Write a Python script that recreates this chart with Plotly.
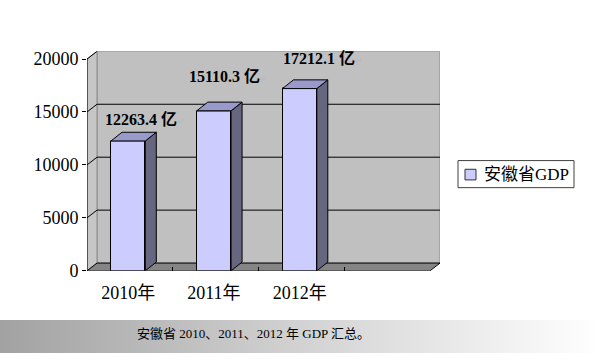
import plotly.graph_objects as go

# ---- data ----
categories = ["2010年", "2011年", "2012年"]
gdp = [12263.4, 15110.3, 17212.1]
value_labels = ["12263.4 亿", "15110.3 亿", "17212.1 亿"]
y_ticks = [0, 5000, 10000, 15000, 20000]
y_ticktext = ["0", "5000", "10000", "15000", "20000"]
series_name = "安徽省GDP"
caption = "安徽省 2010、2011、2012 年 GDP 汇总。"

# ---- geometry / style ----
W, H = 600, 363
PX0, PX1, PY0, PY1 = 87, 440, 51, 278
NSLOT = 4
YMAX = y_ticks[-1]
WALL_DXP, WALL_DYP = 10, 8
BAR_DXP, BAR_DYP = 11, 9
ux = (PX1 - PX0 - WALL_DXP) / NSLOT
uy = (PY1 - PY0 - WALL_DYP) / YMAX
WDX, WDY = WALL_DXP / ux, WALL_DYP / uy
BDX, BDY = BAR_DXP / ux, BAR_DYP / uy
BAR_W = 0.40
CENTER_OFF = 0.48
label_shift = [(-8, 21), (-10, 34), (-2, 30)]

FONT = "Liberation Serif, Times New Roman, Noto Sans CJK SC, serif"
FRONT, TOP, SIDE = "#ccccff", "#9999cc", "#666680"

xc = [i + CENTER_OFF for i in range(len(categories))]

fig = go.Figure()

def path(pts):
    return "M " + " L ".join(f"{x},{y}" for x, y in pts) + " Z"

shapes = []
shapes.append(dict(type="path", xref="x", yref="y", layer="below",
                   path=path([(WDX, WDY), (NSLOT + WDX, WDY), (NSLOT + WDX, YMAX + WDY), (WDX, YMAX + WDY)]),
                   fillcolor="#c0c0c0", line=dict(color="#8a8a8a", width=1)))
shapes.append(dict(type="path", xref="x", yref="y", layer="below",
                   path=path([(0, 0), (WDX, WDY), (WDX, YMAX + WDY), (0, YMAX)]),
                   fillcolor="#c6c6c6", line=dict(color="#8a8a8a", width=1)))
shapes.append(dict(type="path", xref="x", yref="y", layer="below",
                   path=path([(0, 0), (NSLOT, 0), (NSLOT + WDX, WDY), (WDX, WDY)]),
                   fillcolor="#858585", line=dict(color="#000000", width=1)))
for v in y_ticks[1:-1]:
    shapes.append(dict(type="line", xref="x", yref="y", layer="below",
                       x0=WDX, x1=NSLOT + WDX, y0=v + WDY, y1=v + WDY,
                       line=dict(color="#000000", width=1)))
for v in y_ticks[1:]:
    shapes.append(dict(type="line", xref="x", yref="y", layer="below",
                       x0=0, x1=WDX, y0=v, y1=v + WDY,
                       line=dict(color="#000000", width=1)))
shapes.append(dict(type="line", xref="x", yref="y", layer="below",
                   x0=0, x1=0, y0=0, y1=YMAX, line=dict(color="#000000", width=1)))

# legend box drawn to match the reference geometry
shapes.append(dict(type="rect", xref="paper", yref="paper",
                   x0=458 / W, x1=574 / W, y0=1 - 192 / H, y1=1 - 164 / H,
                   fillcolor="#ffffff", line=dict(color="#404040", width=1)))
shapes.append(dict(type="rect", xref="paper", yref="paper",
                   x0=465 / W, x1=476 / W, y0=1 - 184 / H, y1=1 - 173 / H,
                   fillcolor=FRONT, line=dict(color="#303030", width=1)))

for c, v in zip(xc, gdp):
    L, R = c - BAR_W / 2, c + BAR_W / 2
    fig.add_trace(go.Scatter(x=[R, R, R + BDX, R + BDX, R], y=[0, v, v + BDY, BDY, 0],
                             fill="toself", fillcolor=SIDE, mode="lines",
                             line=dict(color="#000000", width=1), showlegend=False, hoverinfo="skip"))
    fig.add_trace(go.Scatter(x=[L, L + BDX, R + BDX, R, L], y=[v, v + BDY, v + BDY, v, v],
                             fill="toself", fillcolor=TOP, mode="lines",
                             line=dict(color="#000000", width=1), showlegend=False, hoverinfo="skip"))

fig.add_trace(go.Bar(x=xc, y=gdp, width=BAR_W, name=series_name, showlegend=False,
                     marker=dict(color=FRONT, line=dict(color="#000000", width=1))))

fig.add_trace(go.Scatter(x=[0, 1, 1, 0, 0], y=[0, 0, 1, 1, 0], xaxis="x2", yaxis="y2",
                         fill="toself", mode="none", showlegend=False, hoverinfo="skip",
                         fillgradient=dict(type="horizontal",
                                           colorscale=[[0, "#a2a2a2"], [0.5, "#d2d2d2"], [1, "#ffffff"]])))

annotations = []
for c, v, t, (sx, sy) in zip(xc, gdp, value_labels, label_shift):
    annotations.append(dict(x=c - BAR_W / 2, y=v, xref="x", yref="y", xanchor="left", yanchor="middle",
                            xshift=sx, yshift=sy, showarrow=False,
                            text=f"<b>{t}</b><span style='color:#b8b8b8;font-size:9px'>↵</span>",
                            font=dict(family=FONT, size=16, color="#000000")))
annotations.append(dict(x=482 / W, y=1 - 178 / H, xref="paper", yref="paper",
                        xanchor="left", yanchor="middle", showarrow=False, text=series_name,
                        font=dict(family=FONT, size=17, color="#000000")))
annotations.append(dict(x=253 / W, y=(H - 343) / H, xref="paper", yref="paper",
                        xanchor="center", yanchor="middle", showarrow=False, text=caption,
                        font=dict(family=FONT, size=13, color="#000000")))

fig.update_layout(
    width=W, height=H, margin=dict(l=0, r=0, t=0, b=0), autosize=False,
    paper_bgcolor="#ffffff", plot_bgcolor="rgba(0,0,0,0)",
    font=dict(family=FONT, color="#000000"),
    shapes=shapes, annotations=annotations, showlegend=False,
    xaxis=dict(domain=[PX0 / W, PX1 / W], range=[0, NSLOT + WDX], showgrid=False, zeroline=False,
               showline=False, tickmode="array", tickvals=xc, ticktext=categories, ticks="",
               ticklabelstandoff=9,
               tickfont=dict(family=FONT, size=18, color="#000000"),
               minor=dict(tickmode="array", tickvals=[1, 2, 3], ticks="inside", ticklen=4,
                          tickcolor="#000000", showgrid=False),
               fixedrange=True),
    yaxis=dict(domain=[(H - PY1) / H, (H - PY0) / H], range=[0, YMAX + WDY], showgrid=False,
               zeroline=False, showline=False, tickmode="array", tickvals=y_ticks, ticktext=y_ticktext,
               ticks="outside", ticklen=4, tickcolor="#000000",
               tickfont=dict(family=FONT, size=18, color="#000000"), fixedrange=True),
    xaxis2=dict(domain=[0, 1], range=[0, 1], visible=False, anchor="y2"),
    yaxis2=dict(domain=[0, 34 / H], range=[0, 1], visible=False, anchor="x2"),
    bargap=0,
)

fig.write_html("out.html")
